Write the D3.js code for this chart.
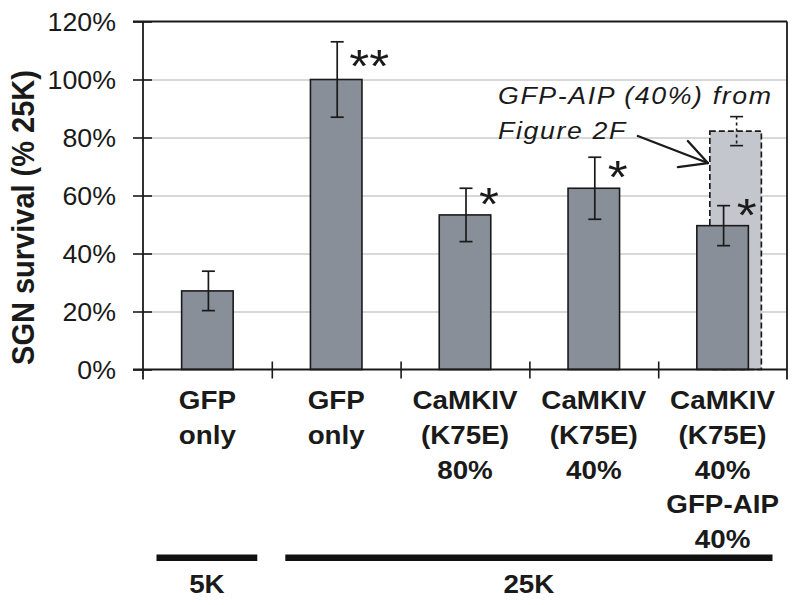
<!DOCTYPE html>
<html>
<head>
<meta charset="utf-8">
<script src="https://cdn.jsdelivr.net/npm/d3@7/dist/d3.min.js"></script>
<style>
  html, body { margin: 0; padding: 0; background: #fff; }
  svg { display: block; }
  text { font-family: "Liberation Sans", Arial, sans-serif; fill: #1a1a1a; }
</style>
</head>
<body>
<svg id="chart" width="800" height="605"></svg>
<script>
// ---- data ----
const categories = ["GFP only 5K", "GFP only 25K", "CaMKIV 80%", "CaMKIV 40%", "CaMKIV 40% + AIP"];
const categoryLines = [
  ["GFP", "only"],
  ["GFP", "only"],
  ["CaMKIV", "(K75E)", "80%"],
  ["CaMKIV", "(K75E)", "40%"],
  ["CaMKIV", "(K75E)", "40%", "GFP-AIP", "40%"]
];
const survival = [27.1, 100, 53.3, 62.5, 49.6];
const survivalErr = [6.8, 13, 9.2, 10.7, 6.9];
const stars = ["", "**", "*", "*", "*"];
const starLevel = [null, 108.3, 61, 70.3, 56.9];
const aipValue = 82.2;      // GFP-AIP (40%) from Figure 2F, overlaid on last category
const aipErr = 5;
const yTicks = [0, 20, 40, 60, 80, 100, 120];
const yTickLabels = ["0%", "20%", "40%", "60%", "80%", "100%", "120%"];
const groups = [
  { label: "5K", from: 0, to: 0 },
  { label: "25K", from: 1, to: 4 }
];
const annotationLines = ["GFP-AIP (40%) from", "Figure 2F"];

(function () {
// ---- layout ----
const svg = d3.select("#chart");
const pLeft = 143, pRight = 787, pTop = 21.5, pBottom = 369.5;
const SX = 1.09; // horizontal stretch of the original's type

const x = d3.scaleBand().domain(categories).range([pLeft, pRight])
  .paddingInner(0.6).paddingOuter(0.3);
const y = d3.scaleLinear().domain([0, 120]).range([pBottom, pTop]);
const bw = x.bandwidth();
const cx = c => x(c) + bw / 2;

const darkFill = "#898f98";
const lightFill = "#c3c6cc";
const ink = "#1a1a1a";

// gridlines
svg.append("g")
  .attr("transform", `translate(${pLeft},0)`)
  .call(d3.axisLeft(y).tickValues(yTicks.filter(v => v > 0 && v < 120)).tickSize(-(pRight - pLeft)).tickFormat(""))
  .call(g => g.select(".domain").remove())
  .call(g => g.selectAll("line").attr("stroke", "#c9cbce").attr("stroke-width", 1.6));

// frame: top and right
svg.append("line").attr("x1", pLeft - 10).attr("x2", pRight).attr("y1", y(120)).attr("y2", y(120))
  .attr("stroke", ink).attr("stroke-width", 1.8);
svg.append("line").attr("x1", pRight).attr("x2", pRight).attr("y1", y(120)).attr("y2", pBottom + 10)
  .attr("stroke", ink).attr("stroke-width", 1.8);

// light overlay bar (from Figure 2F), behind
const lastCat = categories[categories.length - 1];
const lightX = x(lastCat) + 13;
svg.append("rect")
  .attr("x", lightX).attr("y", y(aipValue))
  .attr("width", bw).attr("height", y(0) - y(aipValue))
  .attr("fill", lightFill).attr("stroke", ink).attr("stroke-width", 1.7)
  .attr("stroke-dasharray", "6,3");
{
  const ex = lightX + bw / 2 + 1;
  svg.append("line").attr("x1", ex).attr("x2", ex)
    .attr("y1", y(aipValue + aipErr)).attr("y2", y(aipValue - aipErr))
    .attr("stroke", ink).attr("stroke-width", 1.6).attr("stroke-dasharray", "3,3");
  [aipValue + aipErr, aipValue - aipErr].forEach(v => {
    svg.append("line").attr("x1", ex - 6.5).attr("x2", ex + 6.5).attr("y1", y(v)).attr("y2", y(v))
      .attr("stroke", ink).attr("stroke-width", 1.6);
  });
}

// bars
svg.append("g").selectAll("rect").data(categories).join("rect")
  .attr("x", d => x(d)).attr("y", (d, i) => y(survival[i]))
  .attr("width", bw).attr("height", (d, i) => y(0) - y(survival[i]))
  .attr("fill", darkFill).attr("stroke", ink).attr("stroke-width", 1.6);

// error bars
const eg = svg.append("g").attr("stroke", ink).attr("stroke-width", 1.7);
categories.forEach((c, i) => {
  const ex = cx(c) + 1;
  const hi = survival[i] + survivalErr[i], lo = survival[i] - survivalErr[i];
  eg.append("line").attr("x1", ex).attr("x2", ex).attr("y1", y(hi)).attr("y2", y(lo));
  eg.append("line").attr("x1", ex - 6.5).attr("x2", ex + 6.5).attr("y1", y(hi)).attr("y2", y(hi));
  eg.append("line").attr("x1", ex - 6.5).attr("x2", ex + 6.5).attr("y1", y(lo)).attr("y2", y(lo));
});

// significance stars
categories.forEach((c, i) => {
  if (!stars[i]) return;
  const sx = cx(c) + (stars[i].length > 1 ? 33 : 24);
  svg.append("text")
    .attr("transform", `translate(${sx},${y(starLevel[i]) + 27}) scale(${SX},1)`)
    .attr("text-anchor", "middle")
    .attr("font-size", 47)
    .text(stars[i]);
});

// y axis
const yAxis = svg.append("g").attr("transform", `translate(${pLeft},0)`)
  .call(d3.axisLeft(y).tickValues(yTicks).tickSize(10).tickFormat(""));
yAxis.select(".domain").attr("d", `M0,${pTop}V${pBottom + 10}`).attr("stroke", ink).attr("stroke-width", 1.8);
yAxis.selectAll(".tick line").attr("x1", 9).attr("x2", -10).attr("stroke", ink).attr("stroke-width", 1.6);

svg.append("g").selectAll("text").data(yTicks).join("text")
  .attr("transform", d => `translate(116,${y(d) + 9}) scale(1.07,1)`)
  .attr("text-anchor", "end")
  .attr("font-size", 25)
  .text((d, i) => yTickLabels[i]);

// x axis
const xb = d3.scaleLinear().domain([0, categories.length]).range([pLeft, pRight]);
const xAxis = svg.append("g").attr("transform", `translate(0,${pBottom})`)
  .call(d3.axisBottom(xb).tickValues(d3.range(1, categories.length)).tickSize(9).tickFormat(""));
xAxis.select(".domain").attr("d", `M${pLeft - 10},0H${pRight}`).attr("stroke", ink).attr("stroke-width", 1.8);
xAxis.selectAll(".tick line").attr("y1", -8).attr("y2", 9).attr("stroke", ink).attr("stroke-width", 1.6);

// y axis title
svg.append("text")
  .attr("transform", `translate(34,${(pTop + pBottom) / 2 + 22}) scale(${SX},1) rotate(-90)`)
  .attr("text-anchor", "middle")
  .attr("font-size", 29)
  .attr("font-weight", "bold")
  .text("SGN survival (% 25K)");

// category labels
categories.forEach((c, i) => {
  categoryLines[i].forEach((line, j) => {
    svg.append("text")
      .attr("transform", `translate(${cx(c)},${409 + j * 34.8}) scale(${SX},1)`)
      .attr("text-anchor", "middle")
      .attr("font-size", 25.5)
      .attr("font-weight", "bold")
      .text(line);
  });
});

// group bars and labels
groups.forEach(gr => {
  const x0 = xb(gr.from) + 13.5, x1 = xb(gr.to + 1) - 14.5;
  svg.append("rect").attr("x", x0).attr("y", 554.5).attr("width", x1 - x0).attr("height", 6.5).attr("fill", "#111");
  svg.append("text")
    .attr("transform", `translate(${(x0 + x1) / 2},${593}) scale(${SX},1)`)
    .attr("text-anchor", "middle")
    .attr("font-size", 25.5)
    .attr("font-weight", "bold")
    .text(gr.label);
});

// annotation
annotationLines.forEach((line, j) => {
  svg.append("text")
    .attr("transform", `translate(498,${104 + j * 35}) scale(${SX},1)`)
    .attr("font-size", 24.5)
    .attr("font-style", "italic")
    .attr("letter-spacing", 1.5)
    .attr("fill", "#2a2a2a")
    .text(line);
});
// arrow to the overlay bar
{
  const tipX = lightX - 2, tipY = y(71.2);
  const ag = svg.append("g").attr("stroke", ink).attr("stroke-width", 2.3).attr("fill", "none")
    .attr("stroke-linecap", "round");
  ag.append("line").attr("x1", tipX - 70).attr("y1", y(80.5)).attr("x2", tipX).attr("y2", tipY);
  ag.append("line").attr("x1", tipX - 20).attr("y1", tipY - 22).attr("x2", tipX).attr("y2", tipY);
  ag.append("line").attr("x1", tipX - 30).attr("y1", tipY + 4).attr("x2", tipX).attr("y2", tipY);
}
})();
</script>
</body>
</html>
